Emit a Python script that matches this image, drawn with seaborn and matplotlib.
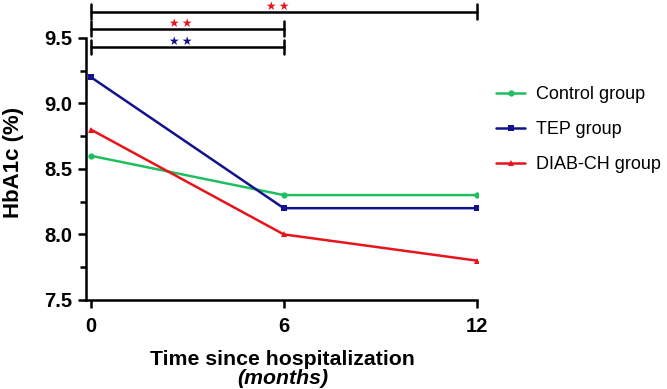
import numpy as np
import pandas as pd
import matplotlib.pyplot as plt
import seaborn as sns

# data
months = [0, 6, 12]
control = [8.6, 8.3, 8.3]
tep = [9.2, 8.2, 8.2]
diab_ch = [8.8, 8.0, 7.8]
groups = ["Control group", "TEP group", "DIAB-CH group"]
colors = ["#1fbf5f", "#12128f", "#e8141c"]
markers = ["o", "s", "^"]

# significance brackets: (x start, x end, y level, star x, star colour)
brackets = [(0, 6, 9.43, 2.8, "#12128f"), (0, 6, 9.57, 2.8, "#e8141c"), (0, 12, 9.70, 5.8, "#e8141c")]

df = pd.DataFrame({
    "month": months * 3,
    "hba1c": control + tep + diab_ch,
    "group": [g for g in groups for _ in months],
})

sns.set_style("ticks")
plt.rcParams["font.family"] = ["Liberation Sans", "DejaVu Sans"]
plt.rcParams.update({"text.color": "black", "axes.labelcolor": "black",
                     "xtick.color": "black", "ytick.color": "black",
                     "axes.edgecolor": "black"})

fig = plt.figure(figsize=(6.67, 3.89), dpi=100)
ax = fig.add_axes([0.129, 0.229, 0.588, 0.758])

sns.lineplot(data=df, x="month", y="hba1c", hue="group", style="group",
             palette=colors, markers=markers, dashes=False, markersize=4.5,
             markeredgewidth=0, linewidth=1.8, ax=ax)

ax.set_xlim(-0.15, 12.05)
ax.set_ylim(7.5, 9.75)
ax.set_xticks(months)
ax.set_yticks([7.5, 8.0, 8.5, 9.0, 9.5])
ax.set_yticks(np.arange(7.75, 9.5, 0.5), minor=True)
ax.set_yticklabels(["7.5", "8.0", "8.5", "9.0", "9.5"])
ax.tick_params(axis="both", which="major", labelsize=14.5, width=1.8, length=6, pad=4)
ax.tick_params(axis="x", which="major", pad=6)
ax.tick_params(axis="y", which="minor", width=1.8, length=4)
for lbl in ax.get_xticklabels() + ax.get_yticklabels():
    lbl.set_fontweight("bold")
sns.despine(ax=ax)
ax.spines["left"].set_linewidth(1.8)
ax.spines["bottom"].set_linewidth(1.8)
ax.spines["left"].set_bounds(7.5, 9.5)
ax.spines["bottom"].set_bounds(-0.15, 12)

ax.set_ylabel("HbA1c (%)", fontsize=16, fontweight="bold")
ax.yaxis.set_label_coords(-0.157, 0.465)
ax.set_xlabel("")
fig.text(0.424, 0.075, "Time since hospitalization", ha="center", va="center",
         fontsize=15.3, fontweight="bold")
fig.text(0.424, 0.027, "(months)", ha="center", va="center",
         fontsize=15.3, fontweight="bold", style="italic")

for x0, x1, y, xs, c in brackets:
    ax.plot([x0, x1], [y, y], color="black", lw=1.8, clip_on=False)
    for xe in (x0, x1):
        ax.plot([xe, xe], [y - 0.055, y + 0.055], color="black", lw=1.8, clip_on=False)
    ax.text(xs, y + 0.012, "\u2605\u2009\u2605", color=c, ha="center", va="baseline",
            fontsize=8.5, family=["DejaVu Sans"])

leg = ax.legend(loc="upper left", bbox_to_anchor=(1.005, 0.78), frameon=False,
                fontsize=13, handlelength=1.6, labelspacing=1.0, handletextpad=0.6)

fig.savefig("out.png", dpi=100)
